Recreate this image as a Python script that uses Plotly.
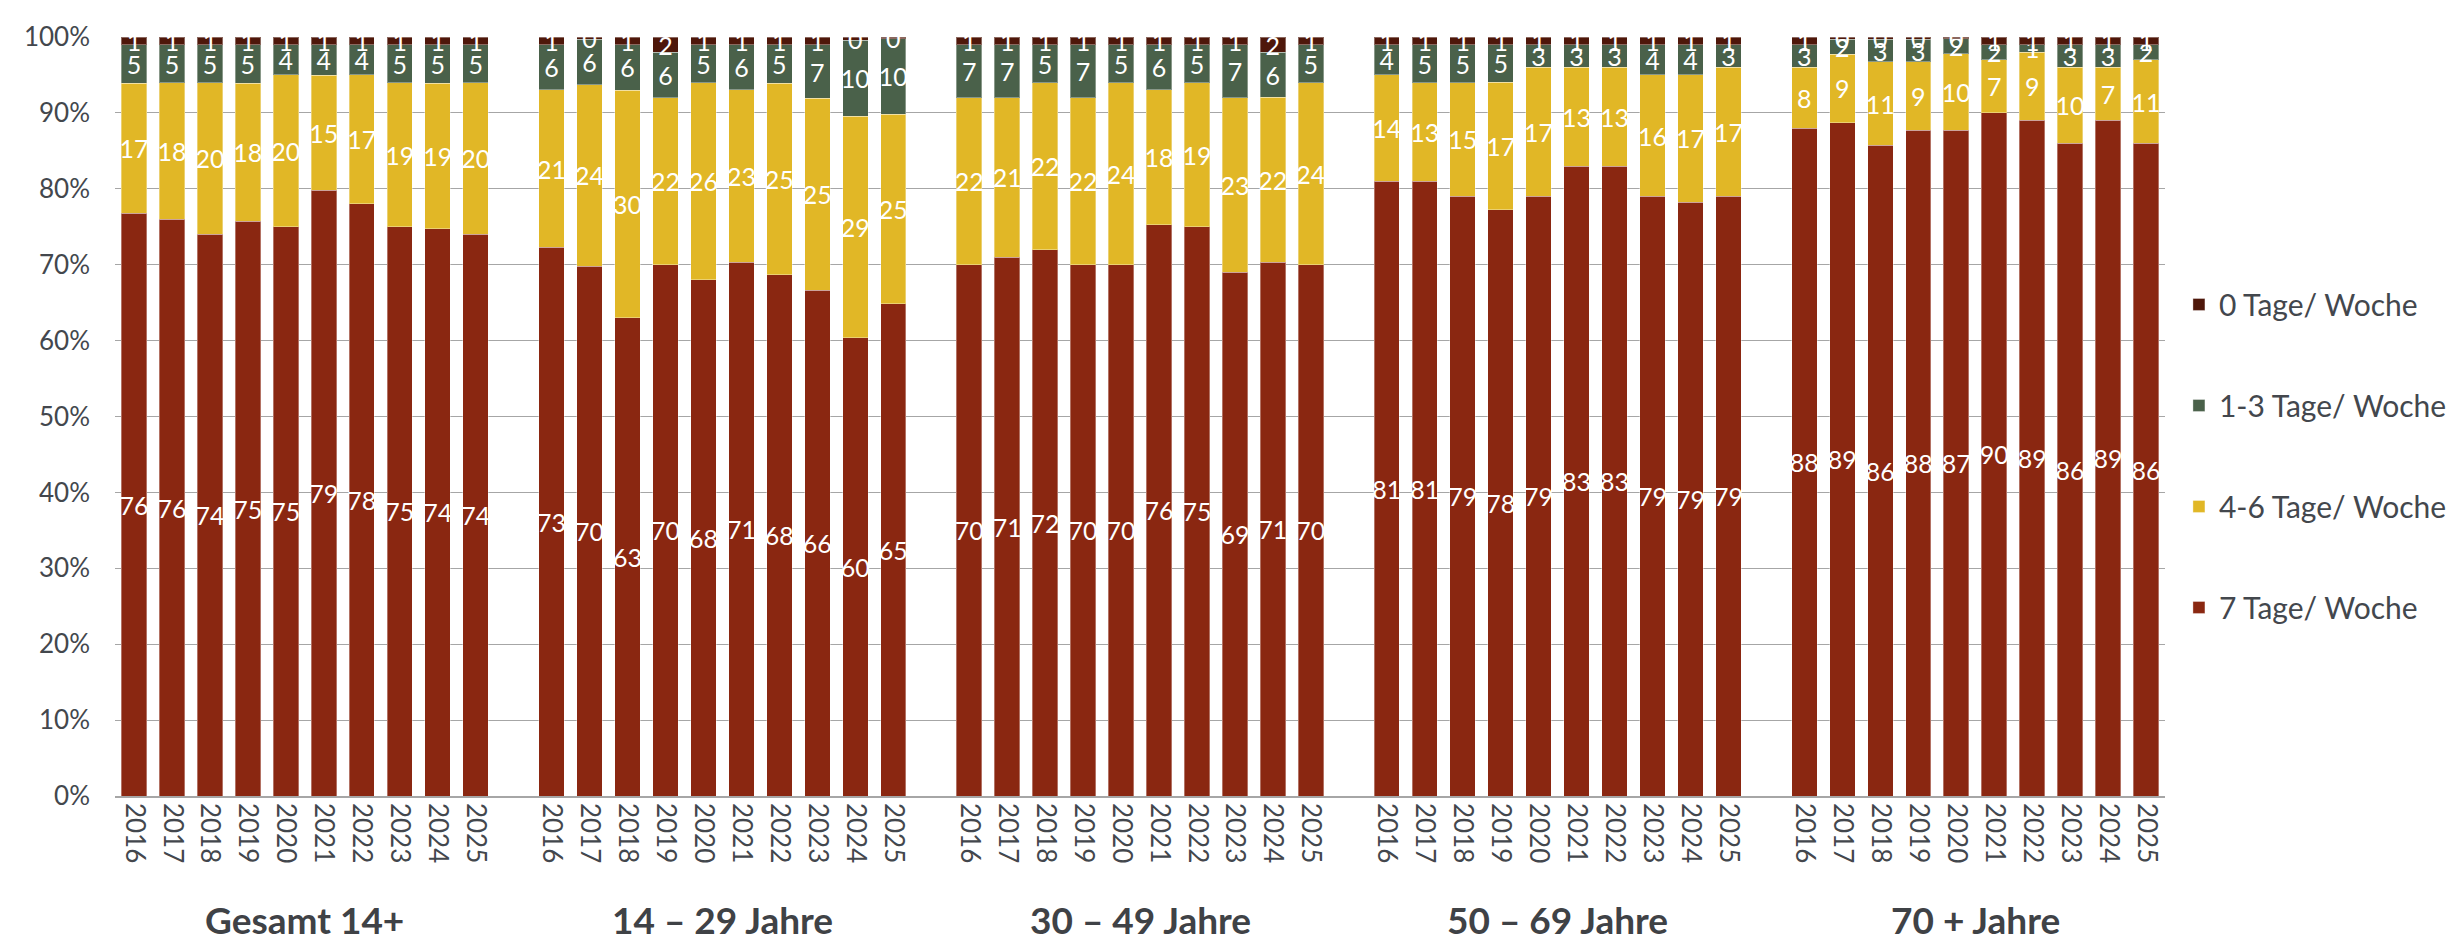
import plotly.graph_objects as go

# ---------------- data ----------------
years = ["2016", "2017", "2018", "2019", "2020", "2021", "2022", "2023", "2024", "2025"]
groups = ["Gesamt 14+", "14 – 29 Jahre", "30 – 49 Jahre", "50 – 69 Jahre", "70 + Jahre"]

# values per series, in group order (Gesamt, 14-29, 30-49, 50-69, 70+), 10 years each
tage_7 = [76, 76, 74, 75, 75, 79, 78, 75, 74, 74,
          73, 70, 63, 70, 68, 71, 68, 66, 60, 65,
          70, 71, 72, 70, 70, 76, 75, 69, 71, 70,
          81, 81, 79, 78, 79, 83, 83, 79, 79, 79,
          88, 89, 86, 88, 87, 90, 89, 86, 89, 86]
tage_4_6 = [17, 18, 20, 18, 20, 15, 17, 19, 19, 20,
            21, 24, 30, 22, 26, 23, 25, 25, 29, 25,
            22, 21, 22, 22, 24, 18, 19, 23, 22, 24,
            14, 13, 15, 17, 17, 13, 13, 16, 17, 17,
            8, 9, 11, 9, 10, 7, 9, 10, 7, 11]
tage_1_3 = [5, 5, 5, 5, 4, 4, 4, 5, 5, 5,
            6, 6, 6, 6, 5, 6, 5, 7, 10, 10,
            7, 7, 5, 7, 5, 6, 5, 7, 6, 5,
            4, 5, 5, 5, 3, 3, 3, 4, 4, 3,
            3, 2, 3, 3, 2, 2, 1, 3, 3, 2]
tage_0 = [1, 1, 1, 1, 1, 1, 1, 1, 1, 1,
          1, 0.3, 1, 2, 1, 1, 1, 1, 0.4, 0.2,
          1, 1, 1, 1, 1, 1, 1, 1, 2, 1,
          1, 1, 1, 1, 1, 1, 1, 1, 1, 1,
          1, 0.3, 0.3, 0.3, 0.2, 1, 1, 1, 1, 1]

# (name, values, colour, legend rank)
series = [
    ("7 Tage/ Woche", tage_7, "#8A2711", 4),
    ("4-6 Tage/ Woche", tage_4_6, "#E1B726", 3),
    ("1-3 Tage/ Woche", tage_1_3, "#4A614A", 2),
    ("0 Tage/ Woche", tage_0, "#4E170A", 1),
]

# slot positions: each group has 10 slots plus one empty slot between groups
xpos = [g * 11 + i for g in range(len(groups)) for i in range(len(years))]
xlabels = [y for _ in groups for y in years]

FONT = "Lato"
GREY = "#43474d"

fig = go.Figure()
for name, vals, col, rank in series:
    fig.add_trace(go.Bar(
        x=xpos, y=vals, name=name,
        marker=dict(color=col, line=dict(color="rgba(255,255,255,0.35)", width=1)),
        text=[str(int(round(v))) for v in vals],
        texttemplate="%{text}",
        textposition="inside",
        insidetextanchor="middle",
        textangle=0,
        constraintext="none",
        textfont=dict(family=FONT, size=25, color="white"),
        legendgroup=name,
        legendrank=rank,
        hoverinfo="skip",
    ))

for g, gname in enumerate(groups):
    fig.add_annotation(
        x=g * 11 + 4.5, xref="x", y=-0.1944, yref="paper",
        text=f"<b>{gname}</b>", showarrow=False,
        font=dict(family=FONT, size=37, color="#3f4246"),
        xanchor="center", yanchor="bottom",
    )

fig.update_layout(
    width=2456, height=938,
    barmode="stack", barnorm="percent", bargap=0.33,
    plot_bgcolor="white", paper_bgcolor="white",
    margin=dict(l=107, r=282, t=18, b=150),
    font=dict(family=FONT, color=GREY),
    legend=dict(
        traceorder="grouped", tracegroupgap=59,
        x=1.0068, xanchor="left", y=0.448, yanchor="middle",
        font=dict(family=FONT, size=30, color=GREY),
        bgcolor="rgba(0,0,0,0)",
    ),
    showlegend=True,
)
fig.update_xaxes(
    range=[-0.5, 53.5], tickmode="array", tickvals=xpos, ticktext=xlabels,
    tickangle=90, tickfont=dict(family=FONT, size=26, color=GREY),
    showgrid=False, showline=True, linecolor="#A6A6A6", linewidth=1.5,
    ticks="", ticklabelstandoff=0, zeroline=False,
)
fig.update_yaxes(
    range=[0, 100], dtick=10, ticksuffix="%",
    tickfont=dict(family=FONT, size=26, color=GREY),
    showgrid=True, gridcolor="#A6A6A6", gridwidth=1,
    zeroline=False, ticks="", ticklabelstandoff=24,
)

fig.write_html("out.html")
